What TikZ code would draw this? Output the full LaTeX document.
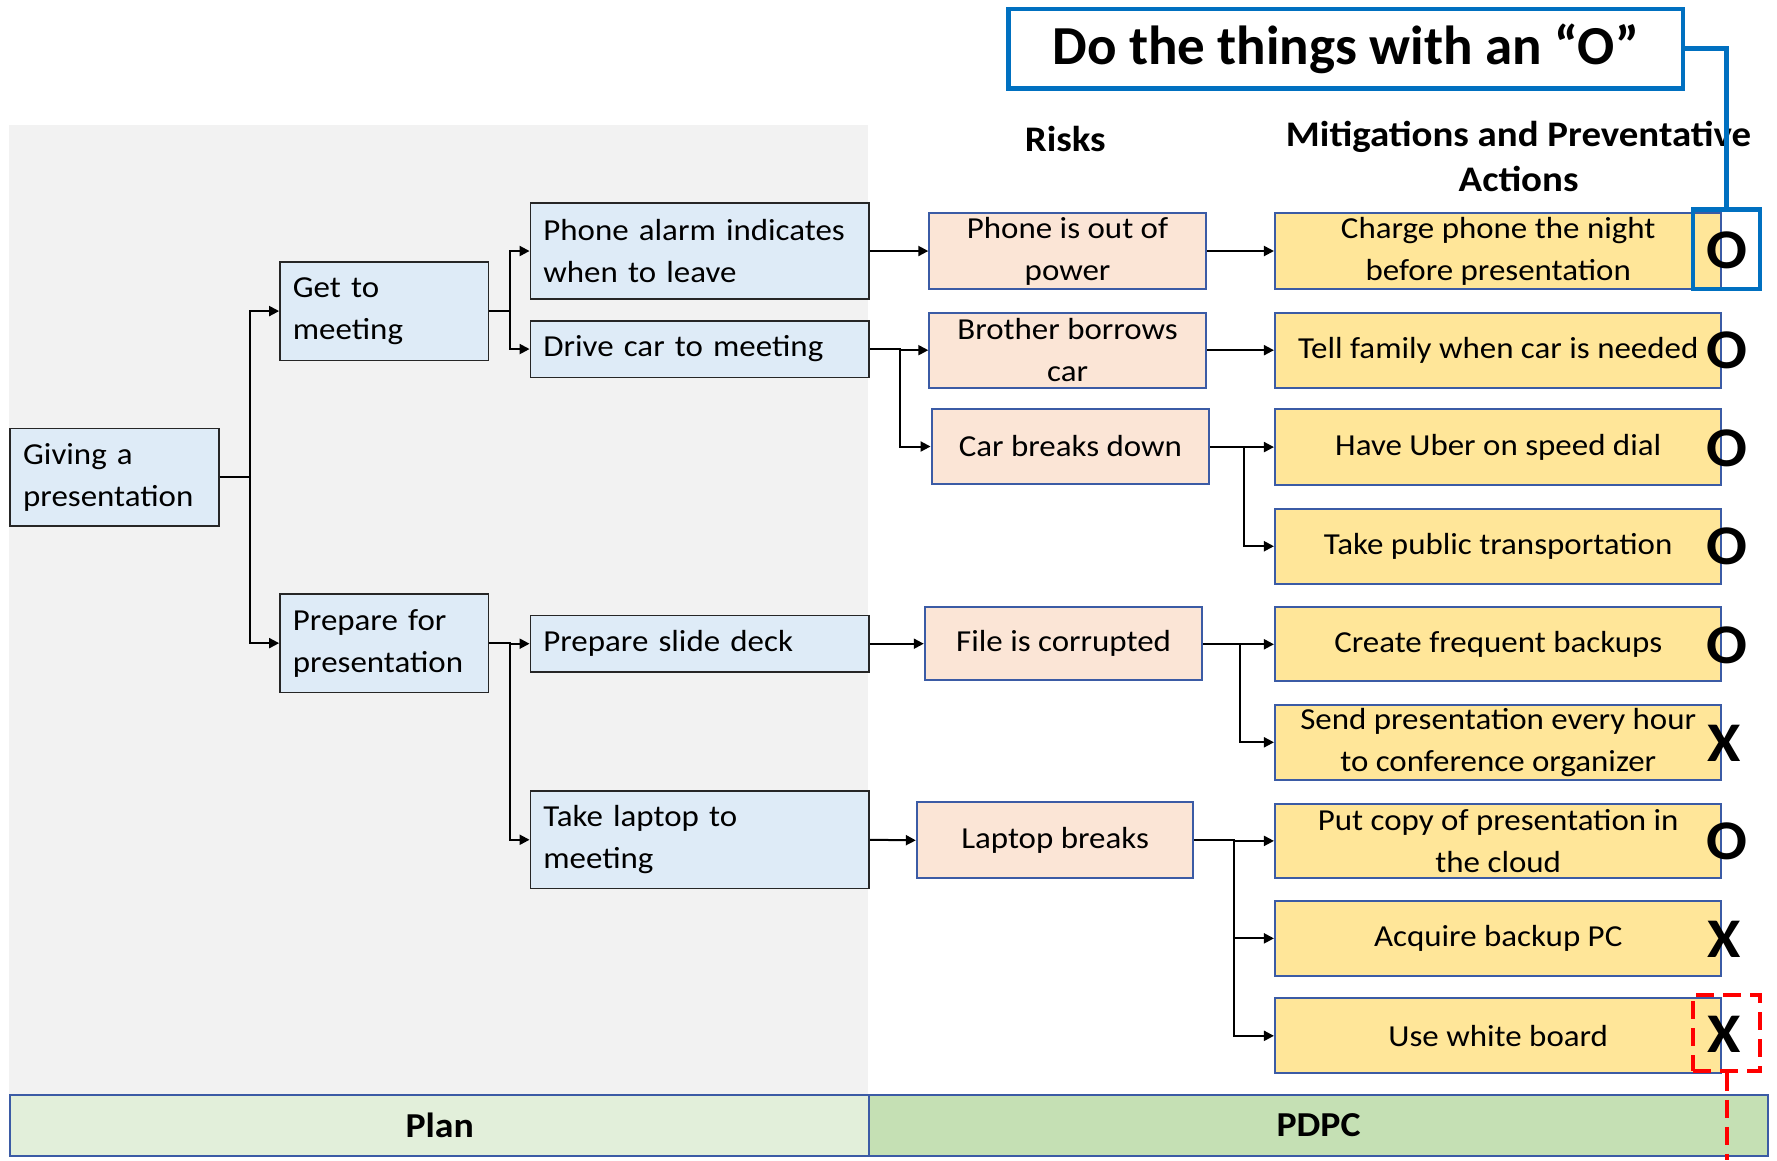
\documentclass[tikz,border=0pt]{standalone}
\usepackage{fontspec}
\setmainfont{Carlito}[FakeStretch=1.08]
\newfontfamily\titlefont{Carlito}[FakeStretch=1.0]
\usetikzlibrary{arrows.meta}
\definecolor{planfill}{HTML}{DEEBF7}
\definecolor{riskfill}{HTML}{FBE5D6}
\definecolor{mitfill}{HTML}{FFE699}
\definecolor{boxblue}{HTML}{3B5BA5}
\definecolor{bggray}{HTML}{F2F2F2}
\definecolor{planband}{HTML}{E2EFDA}
\definecolor{pdpcband}{HTML}{C5E0B4}
\definecolor{titleblue}{HTML}{0070C0}
\newcommand{\bx}[7]{%
  \pgfmathsetmacro\bxw{(#4-#2)*1.1333}%
  \pgfmathsetmacro\bxh{(#5-#3)*1.1333}%
  \pgfmathsetmacro\bxt{(#4-#2)*1.1333-26}%
  \node[#6, minimum width=\bxw pt, minimum height=\bxh pt] (#1) at ({(#2+#4)/2},{(#3+#5)/2}) {#7};}
\begin{document}
\begin{tikzpicture}[x=1.1333pt,y=-1.1333pt,
  boxtext/.style={font=\fontsize{30.5}{42}\selectfont, inner sep=0pt},
  planbox/.style={boxtext, draw=black!85, line width=1.6pt, fill=planfill, align=left, text width=\bxt pt},
  riskbox/.style={boxtext, draw=boxblue, line width=2pt, fill=riskfill, align=center},
  mitbox/.style={boxtext, draw=boxblue, line width=2pt, fill=mitfill, align=center},
  arr/.style={draw=black, line width=2pt, -{Triangle[length=10pt,width=10pt]}},
  okmark/.style={font=\bfseries\fontsize{56}{56}\selectfont, inner sep=0pt},
  header/.style={font=\bfseries\fontsize{36}{45}\selectfont, align=center, inner sep=0pt},
  bandbox/.style={draw=boxblue, line width=2pt, font=\bfseries\fontsize{35}{40}\selectfont, inner sep=0pt}
]
\useasboundingbox (0,0) rectangle (1568,1024);
\fill[bggray] (8,110) rectangle (766,965);

% bottom band
\bx{plan}{9}{966}{767}{1020}{bandbox, fill=planband}{Plan}
\bx{pdpc}{767}{966}{1560}{1020}{bandbox, fill=pdpcband}{PDPC}

% headers
\node[header] (hrisk) at (940,123) {Risks};
\node[header] (hmit) at (1340,138) {Mitigations and Preventative\\Actions};

% plan boxes
\bx{g0}{9}{378}{193}{464}{planbox}{Giving a\\presentation}
\bx{g1}{247}{231}{431}{318}{planbox}{Get to\\meeting}
\bx{g2}{247}{524}{431}{611}{planbox}{Prepare for\\presentation}
\bx{p1}{468}{179}{767}{264}{planbox}{Phone alarm indicates\\when to leave}
\bx{p2}{468}{283}{767}{333}{planbox}{Drive car to meeting}
\bx{p3}{468}{543}{767}{593}{planbox}{Prepare slide deck}
\bx{p4}{468}{698}{767}{784}{planbox}{Take laptop to\\meeting}

% risks
\bx{r1}{820}{188}{1064}{255}{riskbox}{Phone is out of\\power}
\bx{r2}{820}{276}{1064}{342}{riskbox}{Brother borrows\\car}
\bx{r3}{822}{361}{1067}{427}{riskbox}{Car breaks down}
\bx{r4}{816}{536}{1061}{600}{riskbox}{File is corrupted}
\bx{r5}{809}{708}{1053}{775}{riskbox}{Laptop breaks}

% mitigations
\bx{a1}{1125}{188}{1519}{255}{mitbox}{Charge phone the night\\before presentation}
\bx{a2}{1125}{276}{1519}{342}{mitbox}{Tell family when car is needed}
\bx{a3}{1125}{361}{1519}{428}{mitbox}{Have Uber on speed dial}
\bx{a4}{1125}{449}{1519}{515}{mitbox}{Take public transportation}
\bx{a5}{1125}{536}{1519}{601}{mitbox}{Create frequent backups}
\bx{a6}{1125}{622}{1519}{688}{mitbox}{Send presentation every hour\\to conference organizer}
\bx{a7}{1125}{709}{1519}{775}{mitbox}{Put copy of presentation in\\the cloud}
\bx{a8}{1125}{795}{1519}{861}{mitbox}{Acquire backup PC}
\bx{a9}{1125}{881}{1519}{947}{mitbox}{Use white board}

% connectors
\draw[arr] (g0.east) -- ++(27,0) |- (g1.west);
\draw[arr] (g0.east) -- ++(27,0) |- (g2.west);
\draw[arr] (g1.east) -- ++(18,0) |- (p1.west);
\draw[arr] (g1.east) -- ++(18,0) |- (p2.west);
\draw[arr] (g2.east) -- ++(18,0) |- (p3.west);
\draw[arr] (g2.east) -- ++(18,0) |- (p4.west);
\draw[arr] (p1.east) -- (r1.west);
\draw[arr] (p2.east) -- ++(26,0) |- (r2.west);
\draw[arr] (p2.east) -- ++(26,0) |- (r3.west);
\draw[arr] (p3.east) -- (r4.west);
\draw[arr] (p4.east) -- (r5.west);
\draw[arr] (r1.east) -- (a1.west);
\draw[arr] (r2.east) -- (a2.west);
\draw[arr] (r3.east) -- ++(30,0) |- (a3.west);
\draw[arr] (r3.east) -- ++(30,0) |- (a4.west);
\draw[arr] (r4.east) -- ++(32,0) |- (a5.west);
\draw[arr] (r4.east) -- ++(32,0) |- (a6.west);
\draw[arr] (r5.east) -- ++(35,0) |- (a7.west);
\draw[arr] (r5.east) -- ++(35,0) |- (a8.west);
\draw[arr] (r5.east) -- ++(35,0) |- (a9.west);

% marks
\node[okmark] (m1) at (1524,221) {O};
\node[okmark] (m2) at (1524,309) {O};
\node[okmark] (m3) at (1524,396) {O};
\node[okmark] (m4) at (1524,482) {O};
\node[okmark] (m5) at (1524,569) {O};
\node[okmark] (m6) at (1521,656) {X};
\node[okmark] (m7) at (1524,742) {O};
\node[okmark] (m8) at (1521,829) {X};
\node[okmark] (m9) at (1521,913) {X};

% highlight boxes
\node[draw=titleblue, line width=4.5pt, minimum width={59*1.1333pt}, minimum height={70*1.1333pt}, inner sep=0pt] (obox) at (1523.5,220) {};
\node[draw=red, dash pattern=on 18pt off 9pt, line width=4pt, minimum width={59*1.1333pt}, minimum height={67*1.1333pt}, inner sep=0pt] (xbox) at (1523.5,911.5) {};
\coordinate (rbot) at (1523.5,1024);
\draw[red, line width=4pt, dash pattern=on 18pt off 9pt] (xbox.south) -- (rbot);

% title
\node[draw=titleblue, line width=4.5pt, fill=white, minimum width={595*1.1333pt}, minimum height={70*1.1333pt}, inner sep=0pt, font=\titlefont\bfseries\fontsize{55}{58}\selectfont] (title) at (1187.5,43) {Do the things with an “O”};
\draw[titleblue, line width=4.5pt] (title.east) -| (obox.north);
\end{tikzpicture}
\end{document}
